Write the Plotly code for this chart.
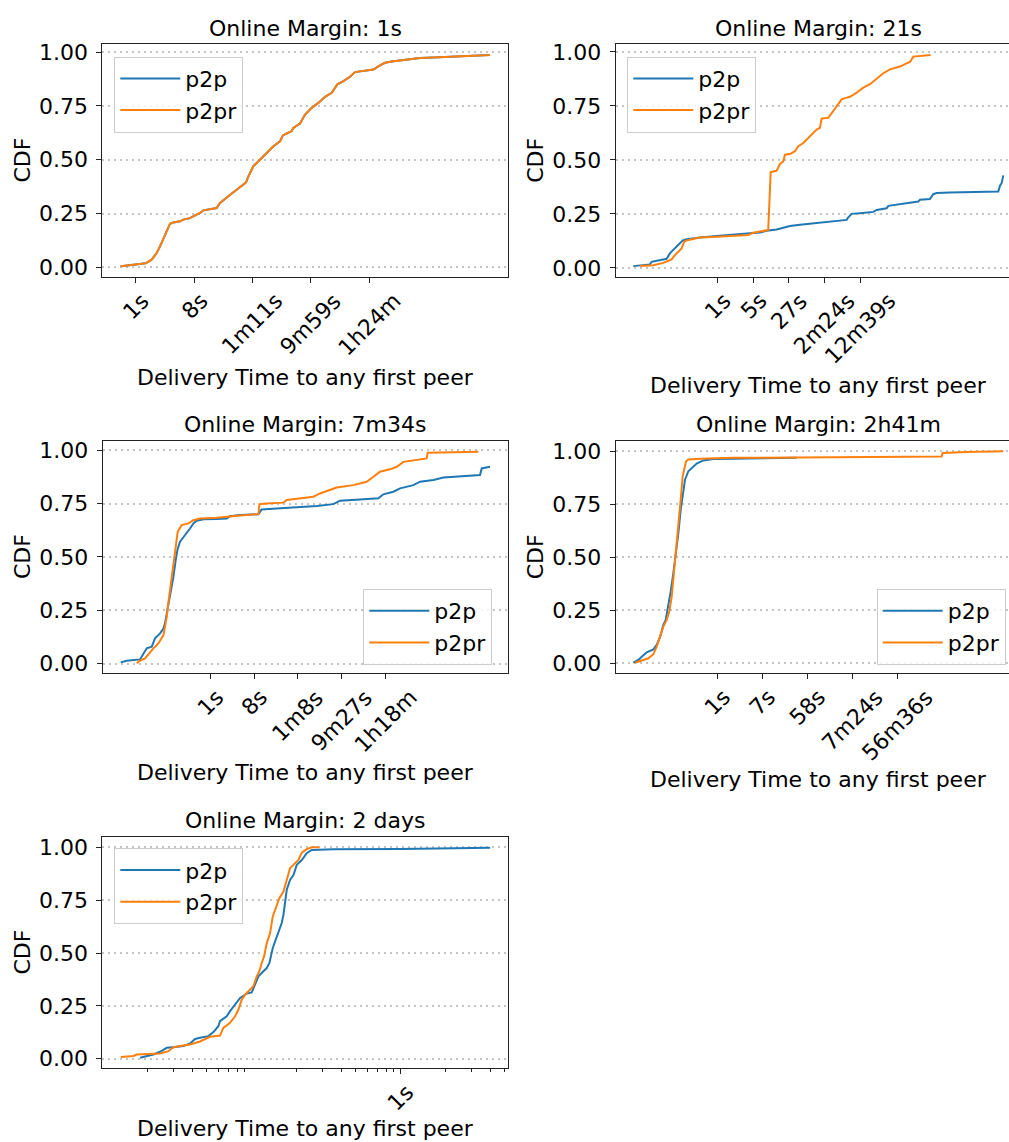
import numpy as np
import plotly.graph_objects as go

W, H = 1009, 1142
BLUE = "#1f77b4"
ORANGE = "#ff7f0e"
FONT = "DejaVu Sans"

# ---------------- data (delivery time in seconds, CDF) ----------------
# Panel 1: Online Margin 1s
p1_p2pr_t = [0.578, 1.44, 1.79, 2.15, 2.43, 2.81, 3.10, 3.50, 3.95, 5.04, 5.69, 7.26, 8.71,
             10.5, 11.8, 15.1, 19.2, 21.7, 27.7, 35.3, 39.9, 47.9, 56.1, 61.1, 73.3, 87.9,
             105, 131, 152, 194, 214, 247, 297, 315, 402, 483, 615, 785, 1002, 1277, 1570,
             1954, 2494, 2992, 4055, 5845, 7450, 8937, 12110, 19710, 32060, 52120, 176200, 412100]
p1_p2pr_cdf = [0.006, 0.019, 0.036, 0.067, 0.098, 0.141, 0.167, 0.203, 0.209, 0.214, 0.222,
               0.229, 0.242, 0.253, 0.265, 0.271, 0.276, 0.299, 0.322, 0.349, 0.361, 0.377,
               0.395, 0.423, 0.470, 0.493, 0.516, 0.543, 0.563, 0.586, 0.612, 0.622, 0.633,
               0.648, 0.668, 0.710, 0.741, 0.764, 0.792, 0.811, 0.850, 0.865, 0.885, 0.907,
               0.912, 0.919, 0.938, 0.950, 0.957, 0.966, 0.972, 0.975, 0.981, 0.986]
p1_p2p_t = p1_p2pr_t
p1_p2p_cdf = p1_p2pr_cdf

# Panel 2: Online Margin 21s
p2_p2p_t = [0.0203, 0.0441, 0.0476, 0.0954, 0.111, 0.140, 0.177, 0.200, 0.241, 0.329, 0.448,
            0.970, 2.10, 4.55, 7.23, 9.86, 15.7, 29.1, 46.3, 100.2, 217, 403, 435, 508, 747,
            1387, 1619, 2574, 2782, 4775, 11170, 12070, 19190, 22390, 26170, 48530, 105100,
            227600, 456700, 493500, 533400, 575600]
p2_p2p_cdf = [0.008, 0.016, 0.028, 0.042, 0.067, 0.090, 0.113, 0.126, 0.132, 0.138, 0.141,
              0.147, 0.152, 0.160, 0.164, 0.172, 0.178, 0.194, 0.200, 0.209, 0.217, 0.222,
              0.234, 0.250, 0.253, 0.259, 0.268, 0.276, 0.287, 0.296, 0.307, 0.315, 0.319,
              0.341, 0.346, 0.349, 0.350, 0.352, 0.353, 0.380, 0.392, 0.428]
p2_p2pr_t = [0.0277, 0.0514, 0.0817, 0.120, 0.140, 0.164, 0.191, 0.216, 0.241, 0.355, 0.448,
             0.970, 2.10, 4.21, 5.31, 7.23, 10.6, 11.9, 15.7, 18.3, 21.3, 23.1, 29.1, 36.7,
             42.8, 54.0, 63.0, 79.4, 100.2, 117, 126, 172, 217, 274, 319, 403, 470, 640, 873,
             1189, 1619, 2205, 3004, 4775, 6026, 7596, 8871, 12070, 19800]
p2_p2pr_cdf = [0.008, 0.012, 0.023, 0.039, 0.059, 0.074, 0.090, 0.121, 0.127, 0.136, 0.140,
               0.144, 0.147, 0.152, 0.163, 0.169, 0.175, 0.443, 0.450, 0.481, 0.493, 0.524,
               0.527, 0.540, 0.563, 0.578, 0.594, 0.617, 0.640, 0.648, 0.691, 0.695, 0.726,
               0.757, 0.780, 0.788, 0.792, 0.811, 0.834, 0.850, 0.876, 0.901, 0.919, 0.932,
               0.943, 0.953, 0.978, 0.981, 0.986]

# Panel 3: Online Margin 7m34s
p3_p2p_t = [0.01274, 0.01706, 0.0325, 0.0382, 0.0450, 0.0573, 0.0673, 0.0858, 0.101, 0.109,
            0.119, 0.128, 0.139, 0.151, 0.164, 0.183, 0.199, 0.226, 0.266, 0.313, 0.367,
            0.432, 0.507, 0.701, 1.34, 2.17, 2.55, 4.15, 10.1, 11.8, 24.5, 76.0, 171, 382,
            528, 1393, 3388, 4317, 7010, 9680, 18490, 25530, 48740, 79100, 128500, 245000,
            467800, 507000, 760000]
p3_p2p_cdf = [0.006, 0.014, 0.020, 0.048, 0.072, 0.080, 0.119, 0.142, 0.165, 0.189, 0.236,
              0.267, 0.314, 0.360, 0.407, 0.485, 0.532, 0.571, 0.594, 0.613, 0.633, 0.657,
              0.669, 0.676, 0.677, 0.680, 0.691, 0.696, 0.700, 0.722, 0.727, 0.732, 0.738,
              0.747, 0.763, 0.769, 0.774, 0.793, 0.805, 0.821, 0.836, 0.852, 0.860, 0.872,
              0.875, 0.878, 0.883, 0.914, 0.922]
p3_p2pr_t = [0.0277, 0.0325, 0.0415, 0.0528, 0.0621, 0.0791, 0.101, 0.109, 0.119, 0.128,
             0.139, 0.158, 0.177, 0.202, 0.245, 0.339, 0.432, 0.596, 1.34, 2.17, 4.15, 10.1,
             10.6, 15.1, 33.9, 39.8, 76.0, 145, 200, 325, 450, 1009, 1923, 2660, 3672, 5962,
             8240, 11380, 18490, 35240, 36980, 67300, 431500]
p3_p2pr_cdf = [0.002, 0.014, 0.025, 0.056, 0.072, 0.095, 0.134, 0.173, 0.220, 0.282, 0.345,
               0.423, 0.532, 0.618, 0.649, 0.657, 0.672, 0.680, 0.683, 0.688, 0.694, 0.700,
               0.747, 0.750, 0.754, 0.766, 0.774, 0.782, 0.797, 0.813, 0.825, 0.836, 0.852,
               0.875, 0.899, 0.910, 0.922, 0.945, 0.953, 0.961, 0.988, 0.989, 0.992]

# Panel 4: Online Margin 2h41m
p4_p2p_t = [0.0222, 0.0279, 0.0325, 0.0407, 0.0550, 0.0640, 0.0744, 0.0865, 0.0962, 0.1084,
            0.1206, 0.136, 0.1535, 0.1706, 0.1897, 0.2138, 0.2307, 0.268, 0.312, 0.391,
            0.528, 0.832, 2.06, 9.29, 36.1]
p4_p2p_cdf = [0.003, 0.016, 0.031, 0.052, 0.066, 0.087, 0.123, 0.181, 0.205, 0.268, 0.339,
              0.425, 0.520, 0.614, 0.724, 0.819, 0.866, 0.906, 0.921, 0.942, 0.957, 0.964,
              0.965, 0.967, 0.969]
p4_p2pr_t = [0.0240, 0.0350, 0.0439, 0.0550, 0.0640, 0.0744, 0.0865, 0.1006, 0.1135, 0.1262,
             0.1403, 0.1535, 0.1706, 0.1897, 0.2075, 0.2415, 0.268, 0.455, 2.06, 42.1, 861,
             25640, 26820, 79430, 417800]
p4_p2pr_cdf = [0.003, 0.016, 0.024, 0.043, 0.079, 0.126, 0.173, 0.205, 0.244, 0.315, 0.425,
               0.520, 0.646, 0.772, 0.882, 0.953, 0.961, 0.965, 0.969, 0.972, 0.973, 0.976,
               0.992, 0.997, 1.000]

# Panel 5: Online Margin 2 days
p5_p2p_t = [0.01781, 0.02188, 0.02427, 0.02691, 0.02979, 0.03475, 0.03855, 0.04166, 0.04498,
            0.05117, 0.05533, 0.05970, 0.06124, 0.06792, 0.07156, 0.07535, 0.08354, 0.09247,
            0.1000, 0.1052, 0.1109, 0.1198, 0.1261, 0.1314, 0.1342, 0.1384, 0.1435, 0.1511,
            0.1590, 0.1632, 0.1675, 0.1718, 0.1808, 0.1905, 0.2005, 0.2167, 0.2340, 0.2528,
            0.3533, 0.990, 3.98]
p5_p2p_cdf = [0.005, 0.020, 0.033, 0.052, 0.055, 0.060, 0.072, 0.094, 0.099, 0.107, 0.126,
              0.154, 0.178, 0.201, 0.225, 0.248, 0.288, 0.308, 0.314, 0.351, 0.390, 0.414,
              0.429, 0.453, 0.484, 0.524, 0.555, 0.602, 0.642, 0.681, 0.736, 0.799, 0.846,
              0.869, 0.917, 0.940, 0.972, 0.987, 0.991, 0.992, 0.998]
p5_p2pr_t = [0.01321, 0.01607, 0.01691, 0.02078, 0.02427, 0.02758, 0.02904, 0.02979, 0.03304,
             0.03855, 0.04498, 0.05248, 0.06124, 0.06442, 0.07156, 0.07730, 0.08140, 0.08570,
             0.09023, 0.09746, 0.1026, 0.1080, 0.1125, 0.1167, 0.1210, 0.1261, 0.1328, 0.1384,
             0.1456, 0.1533, 0.1632, 0.1701, 0.1808, 0.1954, 0.2057, 0.2167, 0.2340, 0.2528,
             0.2845]
p5_p2pr_cdf = [0.008, 0.013, 0.020, 0.024, 0.025, 0.036, 0.052, 0.055, 0.060, 0.068, 0.082,
               0.104, 0.110, 0.146, 0.170, 0.201, 0.233, 0.280, 0.303, 0.330, 0.343, 0.390,
               0.414, 0.453, 0.484, 0.547, 0.594, 0.673, 0.720, 0.759, 0.791, 0.838, 0.901,
               0.925, 0.940, 0.975, 0.991, 1.000, 1.000]

# tick values (s) and labels
p1_tickvals = [1.0, 8.43, 71.06, 599.0, 5050]
p1_ticktext = ["1s", "8s", "1m11s", "9m59s", "1h24m"]
p2_tickvals = [1.0, 5.25, 27.56, 144.7, 759.5]
p2_ticktext = ["1s", "5s", "27s", "2m24s", "12m39s"]
p3_tickvals = [1.0, 8.279, 68.54, 567.5, 4698]
p3_ticktext = ["1s", "8s", "1m8s", "9m27s", "1h18m"]
p4_tickvals = [0.996, 7.61, 58.17, 444.5, 3396.5]
p4_ticktext = ["1s", "7s", "58s", "7m24s", "56m36s"]
p5_tickvals = [1.0]
p5_ticktext = ["1s"]
p5_minor = [0.02, 0.03, 0.04, 0.05, 0.06, 0.07, 0.08, 0.09,
            0.2, 0.3, 0.4, 0.5, 0.6, 0.7, 0.8, 0.9, 2, 3, 4, 5]

titles = ["Online Margin: 1s", "Online Margin: 21s", "Online Margin: 7m34s",
          "Online Margin: 2h41m", "Online Margin: 2 days"]
y_tickvals = [0, 0.25, 0.5, 0.75, 1.0]
y_ticktext = ["0.00", "0.25", "0.50", "0.75", "1.00"]

# ---------------- layout geometry (pixels) ----------------
panels = [
    dict(title=titles[0], p2p=(p1_p2p_t, p1_p2p_cdf), p2pr=(p1_p2pr_t, p1_p2pr_cdf),
         tv=p1_tickvals, tt=p1_ticktext, minor=None,
         xr=[-0.529, 5.90], yr=[-0.043, 1.036], box=(102.3, 508, 44.3, 276.7),
         cx=305.2, legend=(114.3, 56.7), mirror=True, title_y=28.5, xlab_y=377, cdf_x=22),
    dict(title=titles[1], p2p=(p2_p2p_t, p2_p2p_cdf), p2pr=(p2_p2pr_t, p2_p2pr_cdf),
         tv=p2_tickvals, tt=p2_ticktext, minor=None,
         xr=[-2.046, 5.875], yr=[-0.041, 1.035], box=(615.7, 1009, 44.3, 276.7),
         cx=818.5, legend=(627.3, 56.7), mirror=False, title_y=28.5, xlab_y=385, cdf_x=535.3),
    dict(title=titles[2], p2p=(p3_p2p_t, p3_p2p_cdf), p2pr=(p3_p2pr_t, p3_p2pr_cdf),
         tv=p3_tickvals, tt=p3_ticktext, minor=None,
         xr=[-2.274, 6.259], yr=[-0.045, 1.044], box=(102.7, 508, 440.7, 673.3),
         cx=305.3, legend=(363.3, 589), mirror=True, title_y=424.5, xlab_y=772, cdf_x=22),
    dict(title=titles[3], p2p=(p4_p2p_t, p4_p2p_cdf), p2pr=(p4_p2pr_t, p4_p2pr_cdf),
         tv=p4_tickvals, tt=p4_ticktext, minor=None,
         xr=[-2.0, 5.733], yr=[-0.047, 1.05], box=(615.7, 1009, 440.7, 673.3),
         cx=818.5, legend=(876.7, 589), mirror=False, title_y=424.5, xlab_y=779.5, cdf_x=535.3),
    dict(title=titles[4], p2p=(p5_p2p_t, p5_p2p_cdf), p2pr=(p5_p2pr_t, p5_p2pr_cdf),
         tv=p5_tickvals, tt=p5_ticktext, minor=p5_minor,
         xr=[-2.003, 0.720], yr=[-0.045, 1.05], box=(102.3, 508, 836.7, 1068.3),
         cx=305.2, legend=(114.3, 848.3), mirror=True, title_y=820, xlab_y=1128.5, cdf_x=22),
]

fig = go.Figure()
annotations = []
layout = dict(
    width=W, height=H,
    margin=dict(l=0, r=0, t=0, b=0, autoexpand=False),
    paper_bgcolor="white", plot_bgcolor="white",
    font=dict(family=FONT, size=22, color="black"),
    showlegend=True,
)


def px_x(p):
    return p / W


def px_y(p):
    return 1 - p / H


for i, P in enumerate(panels, start=1):
    sfx = "" if i == 1 else str(i)
    xa, ya = "x" + sfx, "y" + sfx
    leg = "legend" + sfx
    l, r, t, b = P["box"]
    for name, color in (("p2p", BLUE), ("p2pr", ORANGE)):
        tt, cc = P[name]
        fig.add_trace(go.Scatter(x=tt, y=cc, mode="lines", name=name,
                                 line=dict(color=color, width=2),
                                 xaxis=xa, yaxis=ya, legend=leg, hoverinfo="skip"))
    xaxis = dict(
        domain=[px_x(l), min(1.0, px_x(r))], anchor=ya, type="log", range=P["xr"],
        tickmode="array", tickvals=P["tv"], ticktext=P["tt"], showticklabels=False,
        ticks="outside", ticklen=5, tickwidth=1, tickcolor="#222222",
        showline=True, linecolor="#222222", linewidth=1, mirror=True,
        showgrid=False, zeroline=False,
    )
    if P["minor"] is not None:
        xaxis["minor"] = dict(tickmode="array", tickvals=P["minor"], ticks="outside",
                              ticklen=3, tickwidth=1, tickcolor="#222222", showgrid=False)
    yaxis = dict(
        domain=[px_y(b), px_y(t)], anchor=xa, range=P["yr"],
        tickmode="array", tickvals=y_tickvals, ticktext=y_ticktext,
        ticks="outside", ticklen=5, tickwidth=1, tickcolor="#222222",
        ticklabelstandoff=4,
        tickfont=dict(family=FONT, size=22, color="black"),
        showline=True, linecolor="#222222", linewidth=1, mirror=P["mirror"],
        showgrid=True, gridcolor="#c4c4c4", gridwidth=1.6, griddash="2px,4px",
        zeroline=False,
    )
    layout["xaxis" + sfx] = xaxis
    layout["yaxis" + sfx] = yaxis
    lx, ly = P["legend"]
    layout[leg] = dict(x=px_x(lx), y=px_y(ly), xanchor="left", yanchor="top",
                       bgcolor="rgba(255,255,255,0.8)", bordercolor="#cccccc", borderwidth=1,
                       font=dict(family=FONT, size=22, color="black"),
                       itemwidth=60, tracegroupgap=0)
    # title
    annotations.append(dict(text=P["title"], x=px_x(P["cx"]), y=px_y(P["title_y"]),
                            xref="paper", yref="paper", xanchor="center", yanchor="middle",
                            showarrow=False, font=dict(family=FONT, size=22, color="black")))
    # x label
    annotations.append(dict(text="Delivery Time to any first peer", x=px_x(P["cx"]),
                            y=px_y(P["xlab_y"]), xref="paper", yref="paper",
                            xanchor="center", yanchor="middle", showarrow=False,
                            font=dict(family=FONT, size=22, color="black")))
    # y label
    annotations.append(dict(text="CDF", x=px_x(P["cdf_x"]), y=px_y((t + b) / 2),
                            xref="paper", yref="paper", xanchor="center", yanchor="middle",
                            textangle=-90, showarrow=False,
                            font=dict(family=FONT, size=22, color="black")))
    # rotated x tick labels
    for v, lab in zip(P["tv"], P["tt"]):
        annotations.append(dict(text=lab, x=float(np.log10(v)), xref=xa,
                                y=px_y(b + 9), yref="paper", xanchor="center",
                                yanchor="top", textangle=-45, showarrow=False,
                                font=dict(family=FONT, size=22, color="black")))

layout["annotations"] = annotations
fig.update_layout(**layout)
fig.write_html("out.html")
